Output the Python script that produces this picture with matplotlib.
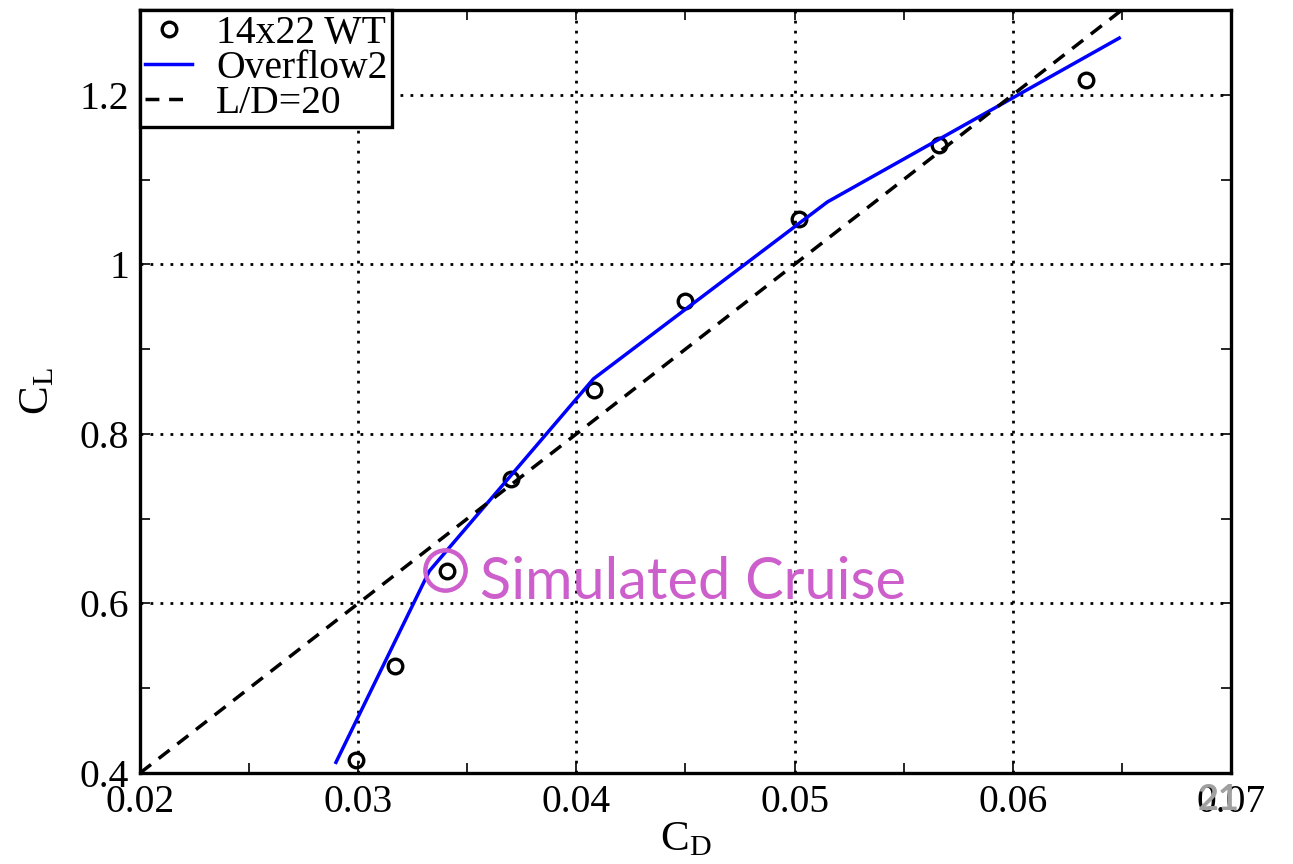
import numpy as np
import matplotlib
matplotlib.use('Agg')
import matplotlib.pyplot as plt
from matplotlib.ticker import MultipleLocator

# 14x22 wind tunnel data
wt_cd = [0.02989, 0.03168, 0.03405, 0.03700, 0.04080, 0.04497, 0.05019, 0.05662, 0.06334]
wt_cl = [0.4153, 0.5262, 0.6385, 0.7463, 0.8522, 0.9569, 1.0532, 1.1404, 1.2169]

# Overflow2 CFD polar
of_cd = [0.02898, 0.03326, 0.04078, 0.05151, 0.06488]
of_cl = [0.4126, 0.6383, 0.8649, 1.0737, 1.2669]

# L/D = 20 reference line
ld_ratio = 20
ld_cd = [0.02, 0.065]

# simulated cruise marker
cruise_cd = 0.03397
cruise_cl = 0.6394
cruise_text_cd = 0.03557
cruise_text_cl = 0.605

plt.rcParams['font.family'] = ['Liberation Serif', 'DejaVu Serif']
plt.rcParams['mathtext.fontset'] = 'stix'

fig = plt.figure(figsize=(12.93, 8.64), dpi=100)
ax = fig.add_axes([0.1083, 0.1053, 0.8437, 0.8831])

ax.plot(wt_cd, wt_cl, 'o', mfc='none', mec='black', mew=2.4, ms=10.5, label='14x22 WT')
ax.plot(of_cd, of_cl, color='#0000ff', lw=2.5, label='Overflow2')
ax.plot(ld_cd, [ld_ratio * c for c in ld_cd], color='black', lw=2.5,
        dashes=(4, 2.8), label='L/D=20')

# cruise highlight
ax.plot([cruise_cd], [cruise_cl], 'o', mfc='none', mec='#cc5fcc', mew=3.2, ms=29)
ax.text(cruise_text_cd, cruise_text_cl, 'Simulated Cruise', color='#cc5fcc',
        fontsize=41.5, family=['Lato', 'DejaVu Sans'], va='baseline', ha='left')

ax.set_xlim(0.02, 0.07)
ax.set_ylim(0.4, 1.3)
ax.xaxis.set_minor_locator(MultipleLocator(0.005))
ax.yaxis.set_minor_locator(MultipleLocator(0.1))
ax.set_xticks([0.02, 0.03, 0.04, 0.05, 0.06, 0.07])
ax.set_xticklabels(['0.02', '0.03', '0.04', '0.05', '0.06', '0.07'])
ax.set_yticks([0.4, 0.6, 0.8, 1.0, 1.2])
ax.set_yticklabels(['0.4', '0.6', '0.8', '1', '1.2'])

ax.grid(True, which='major', color='black', lw=2, linestyle=(0, (1, 2.6)))
ax.tick_params(which='both', direction='in', top=True, right=True,
               labelsize=28.5, width=1.2, pad=8)
ax.tick_params(which='major', length=7)
ax.tick_params(which='minor', length=7)
for s in ax.spines.values():
    s.set_linewidth(2.4)

ax.set_xlabel(r'$\mathregular{C_D}$', fontsize=31, labelpad=0)
ax.set_ylabel(r'$\mathregular{C_L}$', fontsize=31, labelpad=16)

leg = ax.legend(loc='upper left', fontsize=28.5, borderaxespad=0, borderpad=0.12,
                labelspacing=-0.05, handlelength=1.2, handletextpad=0.6,
                fancybox=False, framealpha=1, edgecolor='black')
leg.get_frame().set_linewidth(2.4)

fig.text(0.9265, 0.062, '21', color='#a0a0a0', fontsize=26,
         family=['Lato', 'DejaVu Sans'], fontweight='bold')

fig.savefig('out.png', dpi=100)
